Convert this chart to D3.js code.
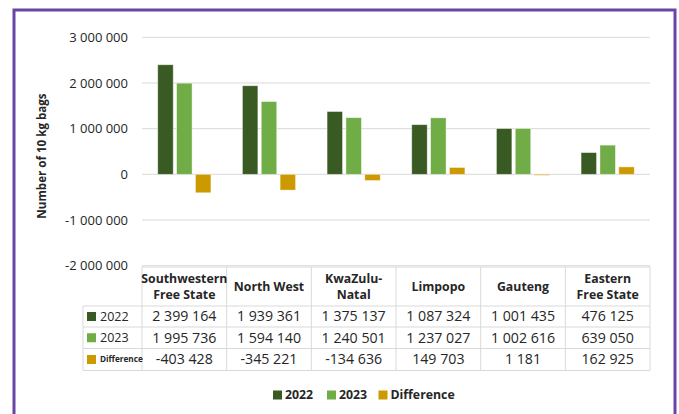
<!DOCTYPE html>
<html>
<head>
<meta charset="utf-8">
<script src="https://cdn.jsdelivr.net/npm/d3@7"></script>
<style>
  body { margin: 0; background: #fff; }
  svg { display: block; font-family: "Open Sans", Lato, sans-serif; }
</style>
</head>
<body>
<script>
const categories = ['Southwestern Free State', 'North West', 'KwaZulu-Natal', 'Limpopo', 'Gauteng', 'Eastern Free State'];
const headerLines = [['Southwestern', 'Free State'], ['North West'], ['KwaZulu-', 'Natal'], ['Limpopo'], ['Gauteng'], ['Eastern', 'Free State']];
const seriesNames = ['2022', '2023', 'Difference'];
const values2022 = [2399164, 1939361, 1375137, 1087324, 1001435, 476125];
const values2023 = [1995736, 1594140, 1240501, 1237027, 1002616, 639050];
const valuesDiff = [-403428, -345221, -134636, 149703, 1181, 162925];
const yTicks = [-2000000, -1000000, 0, 1000000, 2000000, 3000000];

const colors = { '2022': '#3a5a24', '2023': '#70ad47', 'Difference': '#cc9a00' };
const seriesValues = { '2022': values2022, '2023': values2023, 'Difference': valuesDiff };

const width = 679;
const height = 414;

const svg = d3.select('body')
  .append('svg')
    .attr('width', width)
    .attr('height', height);

// purple frame
svg.append('path')
  .attr('d', 'M14,414V10H675V414')
  .attr('fill', 'none')
  .attr('stroke', '#6a45a8')
  .attr('stroke-width', 3);

const x = d3.scaleBand().domain(categories).range([142, 650]);
const y = d3.scaleLinear().domain([-2000000, 3000000]).range([265.7, 37.3]);
const bw = x.bandwidth();
const x1 = d3.scaleBand().domain(seriesNames).range([bw * 0.186, bw * 0.814]).paddingInner(0.18);

const locale = d3.formatLocale({ decimal: '.', thousands: ' ', grouping: [3], currency: ['', ''], minus: '-' });
const fmt = locale.format(',');

// gridlines
svg.append('g')
  .selectAll('line')
  .data(yTicks)
  .join('line')
    .attr('x1', 142)
    .attr('x2', 650)
    .attr('y1', d => y(d))
    .attr('y2', d => y(d))
    .attr('stroke', '#d9d9d9')
    .attr('stroke-width', 1);

// y axis labels
svg.append('g')
  .selectAll('text')
  .data(yTicks)
  .join('text')
    .attr('x', 128)
    .attr('y', d => y(d))
    .attr('dy', '0.35em')
    .attr('text-anchor', 'end')
    .attr('font-size', 13)
    .attr('fill', '#262626')
    .text(d => fmt(d));

svg.append('text')
  .attr('transform', 'translate(45.5,156) rotate(-90)')
  .attr('text-anchor', 'middle')
  .attr('font-size', 11.6)
  .attr('font-weight', 'bold')
  .attr('fill', '#262626')
  .text('Number of 10 kg bags');

// bars
const groups = svg.append('g')
  .selectAll('g')
  .data(categories)
  .join('g')
    .attr('transform', d => `translate(${x(d)},0)`);

groups.selectAll('rect')
  .data((d, i) => seriesNames.map(s => ({ s, v: seriesValues[s][i] })))
  .join('rect')
    .attr('x', d => x1(d.s))
    .attr('width', x1.bandwidth())
    .attr('y', d => y(Math.max(0, d.v)))
    .attr('height', d => Math.max(1, Math.abs(y(d.v) - y(0))))
    .attr('fill', d => colors[d.s])
    .attr('stroke', '#ffffff')
    .attr('stroke-opacity', 0.5)
    .attr('stroke-width', 0.8);

// data table
const tableTop = 267;
const rowEdges = [267, 306, 327, 348.5, 370.5];
const legendLeft = 83;
const tbl = svg.append('g');
const gridColor = '#d9d9d9';

rowEdges.forEach((ry, i) => {
  tbl.append('line')
    .attr('x1', i === 0 ? 142 : legendLeft)
    .attr('x2', 650)
    .attr('y1', ry).attr('y2', ry)
    .attr('stroke', gridColor);
});
const colEdges = categories.map(c => x(c)).concat([650]);
colEdges.forEach(cx => {
  tbl.append('line')
    .attr('x1', cx).attr('x2', cx)
    .attr('y1', tableTop).attr('y2', rowEdges[4])
    .attr('stroke', gridColor);
});
tbl.append('line')
  .attr('x1', legendLeft).attr('x2', legendLeft)
  .attr('y1', rowEdges[1]).attr('y2', rowEdges[4])
  .attr('stroke', gridColor);

// header text
categories.forEach((c, i) => {
  const lines = headerLines[i];
  const cy = (rowEdges[0] + rowEdges[1]) / 2;
  const t = tbl.append('text')
    .attr('text-anchor', 'middle')
    .attr('font-size', 12.3)
    .attr('font-weight', 'bold')
    .attr('fill', '#262626');
  lines.forEach((ln, j) => {
    t.append('tspan')
      .attr('x', x(c) + bw / 2)
      .attr('y', cy + (j - (lines.length - 1) / 2) * 16)
      .attr('dy', '0.35em')
      .text(ln);
  });
});

// rows
seriesNames.forEach((s, r) => {
  const cy = (rowEdges[r + 1] + rowEdges[r + 2]) / 2;
  tbl.append('rect')
    .attr('x', 87)
    .attr('y', cy - 4.5)
    .attr('width', 9)
    .attr('height', 9)
    .attr('fill', colors[s]);
  tbl.append('text')
    .attr('x', 100)
    .attr('y', cy)
    .attr('dy', '0.35em')
    .attr('font-size', s === 'Difference' ? 8.2 : 12.5)
    .attr('font-weight', s === 'Difference' ? 'bold' : 'normal')
    .attr('fill', '#262626')
    .text(s);
  categories.forEach((c, i) => {
    tbl.append('text')
      .attr('x', x(c) + bw / 2)
      .attr('y', cy)
      .attr('dy', '0.35em')
      .attr('text-anchor', 'middle')
      .attr('font-size', 14.2)
      .attr('fill', '#262626')
      .text(fmt(seriesValues[s][i]));
  });
});

// legend
const legendX = [273, 327, 378.5];
const legend = svg.append('g');
seriesNames.forEach((s, i) => {
  legend.append('rect')
    .attr('x', legendX[i])
    .attr('y', 390.5)
    .attr('width', 9)
    .attr('height', 9)
    .attr('fill', colors[s]);
  legend.append('text')
    .attr('x', legendX[i] + 12)
    .attr('y', 395)
    .attr('dy', '0.35em')
    .attr('font-size', 12.3)
    .attr('font-weight', 'bold')
    .attr('fill', '#262626')
    .text(s);
});
</script>
</body>
</html>
